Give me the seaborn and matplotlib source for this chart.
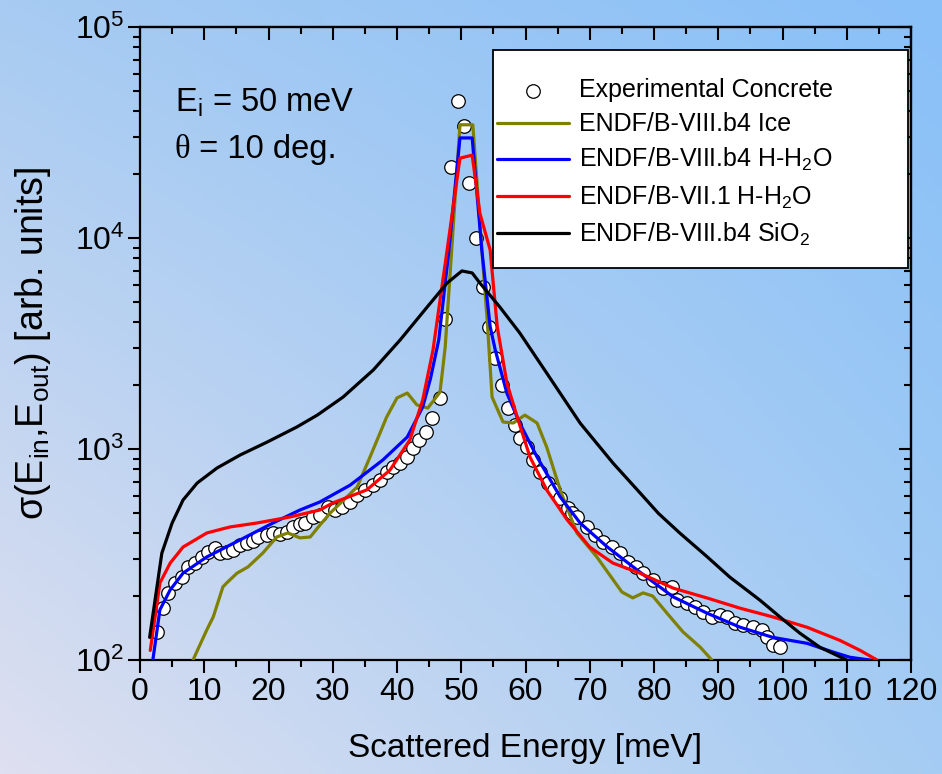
import numpy as np
import matplotlib
matplotlib.use("Agg")
import matplotlib.pyplot as plt
import matplotlib.ticker as mticker
from matplotlib.patches import Rectangle
import seaborn as sns

# Experimental concrete spectrum (scattered energy in meV, cross section in arb. units)
exp_energy = [2.6, 3.6, 4.4, 5.4, 6.5, 7.5, 8.6, 9.6, 10.6, 11.7, 12.5, 13.5, 14.5,
              15.6, 16.6, 17.6, 18.4, 19.8, 20.7, 21.8, 22.9, 23.8, 24.9, 25.7,
              26.9, 28.0, 29.3, 30.4, 31.4, 32.7, 33.8, 35.0, 36.3, 37.4, 38.4,
              39.4, 40.5, 41.6, 42.5, 43.4, 44.5, 45.4, 46.7, 47.5, 48.4, 49.5,
              50.4, 51.2, 52.3, 53.4, 54.3, 55.25, 56.3, 57.3, 58.4, 59.1, 60.2,
              61.2, 62.3, 63.5, 64.4, 65.4, 66.6, 67.3, 68.0, 69.6, 70.8, 72.1,
              73.5, 74.7, 76.0, 77.2, 78.3, 79.8, 81.4, 82.8, 83.6, 85.1, 86.4,
              87.6, 89.0, 90.3, 91.4, 92.6, 93.9, 95.4, 96.8, 97.6, 98.5, 99.6]
exp_sigma = [136, 176, 208, 232, 247, 276, 288, 308, 325, 339, 321, 325, 332,
             351, 359, 365, 383, 391, 400, 395, 404, 427, 441, 446,
             476, 487, 531, 514, 531, 561, 605, 640, 675, 713, 778,
             822, 859, 916, 1011, 1104, 1206, 1403, 1746, 4130, 21700, 44500,
             34000, 18200, 10000, 5860, 3800, 2700, 2010, 1563, 1300, 1127, 1021,
             887, 778, 690, 640, 586, 525, 500, 476, 427, 391, 362,
             344, 320, 290, 275, 258, 239, 219, 222, 192, 186, 178,
             169, 160, 163, 160, 150, 147, 143, 139, 128, 118, 115]

# ENDF/B-VIII.b4 ice
ice_energy = [8.25, 10.4, 11.4, 12.9, 13.5, 15.1, 16.8, 19.1, 21.3, 23.0, 24.9,
              26.5, 28.0, 29.6, 33.8, 35.8, 38.4, 40.0, 41.6, 43.1, 44.8, 46.7,
              47.5, 48.2, 49.8, 51.8, 53.4, 54.0, 54.8, 56.5, 58.1, 59.9, 61.8,
              63.3, 65.4, 68.0, 71.1, 75.0, 76.7, 78.3, 79.8, 82.0, 84.5, 87.2, 89.0]
ice_sigma = [100, 139, 160, 222, 232, 258, 276, 321, 383, 400, 379,
             383, 436, 497, 661, 916, 1420, 1746, 1842, 1618, 1563, 1862,
             3040, 6330, 34400, 34400, 7300, 4230, 1762, 1343, 1328, 1448, 1328,
             1021, 640, 400, 308, 210, 197, 208, 201, 167, 136, 115, 100]

# ENDF/B-VIII.b4 H in H2O
h2o8_energy = [2.0, 3.1, 4.7, 6.7, 10.4, 15.6, 20.7, 24.9, 28.0, 32.7, 37.8, 41.6,
               44.0, 45.2, 46.5, 48.0, 49.8, 51.7, 53.2, 54.5, 55.3, 57.1, 59.1,
               61.8, 65.4, 68.5, 72.7, 77.8, 83.0, 88.2, 93.4, 98.5, 103.8, 107.9,
               110.5, 113.6]
h2o8_sigma = [100, 173, 215, 258, 308, 371, 446, 514, 561, 674, 887, 1140,
              1581, 2150, 3290, 8300, 29800, 29800, 8770, 3800, 2940, 1840, 1327,
              916, 593, 446, 344, 261, 199, 167, 143, 128, 120, 109,
              103, 100]

# ENDF/B-VII.1 H in H2O
h2o7_energy = [1.6, 3.1, 4.7, 6.7, 10.4, 14.0, 18.2, 23.3, 28.0, 30.0, 35.3, 38.9,
               42.0, 44.0, 45.6, 46.7, 47.8, 49.8, 51.7, 52.9, 54.5, 55.6, 57.1,
               58.7, 60.7, 63.3, 66.5, 70.0, 73.6, 77.8, 83.0, 88.2, 93.4, 98.5,
               103.8, 108.9, 112.1, 114.7]
h2o7_sigma = [111, 232, 288, 343, 400, 427, 446, 476, 514, 555, 640, 794,
              1104, 1706, 2940, 5080, 8770, 23900, 24700, 13100, 8770, 3800, 2057,
              1420, 916, 640, 461, 343, 288, 258, 219, 197, 176, 160,
              143, 124, 111, 100]

# ENDF/B-VIII.b4 SiO2
sio2_energy = [1.5, 3.4, 5.0, 6.7, 8.9, 12.0, 15.6, 19.8, 24.4, 27.6, 31.6, 36.3,
               40.5, 44.7, 47.8, 50.1, 51.7, 52.9, 56.0, 59.1, 63.3, 68.5, 73.6,
               77.4, 80.7, 84.0, 88.3, 91.8, 96.5, 99.6, 102.7, 105.8, 109.4, 110.0]
sio2_sigma = [128, 321, 446, 573, 690, 813, 937, 1079, 1271, 1448, 1762, 2367,
              3290, 4710, 6120, 6980, 6830, 6120, 4710, 3550, 2290, 1327, 859,
              640, 495, 400, 308, 247, 192, 160, 134, 115, 102, 100]

series = [
    (ice_energy, ice_sigma, "#808000", "ENDF/B-VIII.b4 Ice"),
    (h2o8_energy, h2o8_sigma, "#0000ff", "ENDF/B-VIII.b4 H-H$_2$O"),
    (h2o7_energy, h2o7_sigma, "#ff0000", "ENDF/B-VII.1 H-H$_2$O"),
    (sio2_energy, sio2_sigma, "#000000", "ENDF/B-VIII.b4 SiO$_2$"),
]

sns.set_style("ticks")
plt.rcParams["font.family"] = ["Liberation Sans", "DejaVu Sans"]
plt.rcParams["mathtext.fontset"] = "custom"
plt.rcParams["mathtext.rm"] = "Liberation Sans"
plt.rcParams["mathtext.it"] = "Liberation Sans:italic"
plt.rcParams["mathtext.bf"] = "Liberation Sans:bold"
plt.rcParams["axes.linewidth"] = 1.6
plt.rcParams["text.color"] = "black"
plt.rcParams["axes.labelcolor"] = "black"
plt.rcParams["xtick.color"] = "black"
plt.rcParams["ytick.color"] = "black"

fig = plt.figure(figsize=(9.42, 7.74), dpi=100)

# diagonal backdrop: lavender bottom-left fading to sky blue top-right
bg = fig.add_axes([0, 0, 1, 1], zorder=-1)
def _rgb(h):
    return np.array([int(h[i:i + 2], 16) for i in (1, 3, 5)]) / 255.0
tl, tr, bl, br = _rgb("#a7cbf2"), _rgb("#88c0f8"), _rgb("#dfe0f0"), _rgb("#a5ccf3")
u = np.linspace(0, 1, 256)[None, :, None]
v = np.linspace(0, 1, 256)[:, None, None]
grad = (1 - v) * ((1 - u) * tl + u * tr) + v * ((1 - u) * bl + u * br)
bg.imshow(grad, extent=(0, 1, 0, 1), aspect="auto", origin="upper")
bg.set_axis_off()

ax = fig.add_axes([140 / 942, 1 - 660 / 774, 771 / 942, 633 / 774])
ax.set_facecolor("none")

sns.scatterplot(x=exp_energy, y=exp_sigma, ax=ax, s=95, color="white",
                edgecolor="black", linewidth=0.9, label="Experimental Concrete",
                zorder=2)
for xe, ys, col, lab in series:
    sns.lineplot(x=xe, y=ys, ax=ax, color=col, linewidth=2.3, label=lab,
                 estimator=None, sort=False, zorder=3)

ax.set_yscale("log")
ax.set_xlim(0, 120)
ax.set_ylim(100, 1e5)

ax.xaxis.set_major_locator(mticker.MultipleLocator(10))
ax.xaxis.set_minor_locator(mticker.MultipleLocator(5))
ax.yaxis.set_major_locator(mticker.LogLocator(base=10, numticks=10))
ax.yaxis.set_minor_locator(mticker.LogLocator(base=10, subs=np.arange(2, 10), numticks=20))
ax.yaxis.set_minor_formatter(mticker.NullFormatter())
ax.yaxis.set_major_formatter(mticker.LogFormatterMathtext())

ax.tick_params(which="both", direction="out", top=False, right=False, width=1.5,
               colors="black", labelsize=23)
ax.tick_params(which="major", length=9)
ax.tick_params(which="minor", length=5)
ax.tick_params(axis="x", pad=3)
ax.tick_params(axis="y", pad=2)

# mirrored ticks pointing inward on the top and right edges
top = ax.secondary_xaxis("top")
top.xaxis.set_major_locator(mticker.MultipleLocator(10))
top.xaxis.set_minor_locator(mticker.MultipleLocator(5))
top.tick_params(which="both", direction="in", labeltop=False, width=1.5)
top.tick_params(which="major", length=9)
top.tick_params(which="minor", length=5)
right = ax.secondary_yaxis("right")
right.yaxis.set_major_locator(mticker.LogLocator(base=10, numticks=10))
right.yaxis.set_minor_locator(mticker.LogLocator(base=10, subs=np.arange(2, 10), numticks=20))
right.tick_params(which="both", direction="in", labelright=False, width=1.5)
right.tick_params(which="major", length=9)
right.tick_params(which="minor", length=5)

for sp in ax.spines.values():
    sp.set_linewidth(1.6)
    sp.set_color("black")

ax.set_xlabel("Scattered Energy [meV]", fontsize=24)
ax.xaxis.set_label_coords(0.5, -0.115)
ax.set_ylabel("σ(E$_{\\rm in}$,E$_{\\rm out}$) [arb. units]", fontsize=27)
ax.yaxis.set_label_coords(-0.113, 0.5)

# condition annotation
ax.text(0.045, 0.866, "E$_{\\rm i}$ = 50 meV", transform=ax.transAxes,
        fontsize=23.5, va="baseline", ha="left")
theta = ax.text(0.045, 0.793, "θ", transform=ax.transAxes, fontsize=23.5,
                va="baseline", ha="left", family=["Liberation Serif", "DejaVu Serif"])
ax.annotate(" = 10 deg.", xy=(1, 0), xycoords=theta, fontsize=23.5,
            va="bottom", ha="left")

# legend box
ax.add_patch(Rectangle((0.458, 0.619), 0.538, 0.345, transform=ax.transAxes,
                       facecolor="white", edgecolor="black", linewidth=1.3,
                       zorder=5))
leg = ax.legend(loc="upper left", bbox_to_anchor=(0.463, 0.919), frameon=False,
                fontsize=18, handlelength=2.9, handletextpad=0.4,
                labelspacing=0.4, borderpad=0, borderaxespad=0)
leg.set_zorder(6)

fig.savefig("out.png", dpi=100)
